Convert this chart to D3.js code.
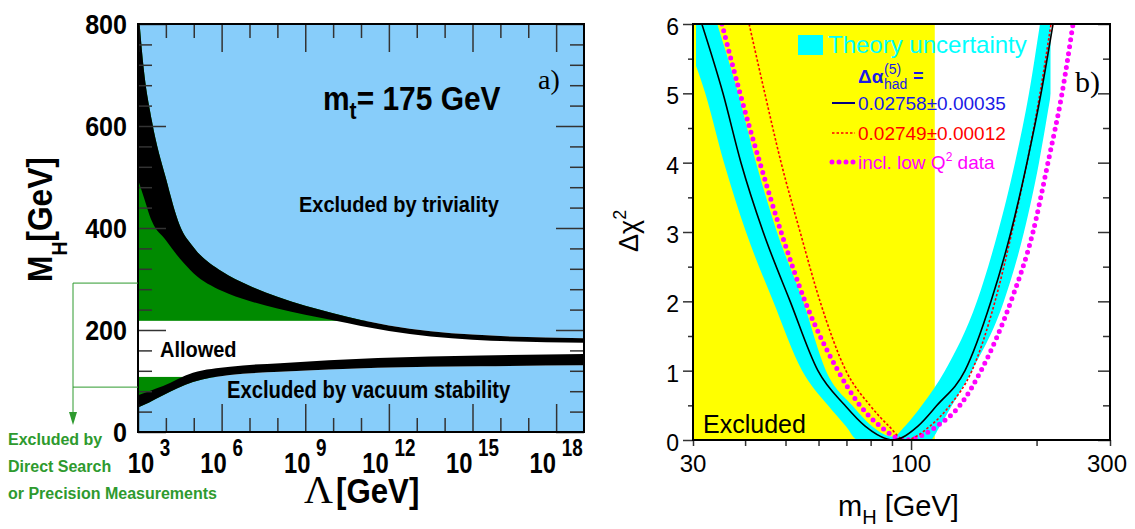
<!DOCTYPE html>
<html lang="en">
<head>
<meta charset="UTF-8">
<title>Higgs mass bounds</title>
<script src="https://d3js.org/d3.v7.min.js"></script>
<style>
  body { margin: 0; background: #fff; }
  svg { display: block; }
  .bold { font-family: 'Liberation Sans', Arial, Helvetica, sans-serif; font-weight: bold; }
  .plain { font-family: 'Liberation Sans', Arial, Helvetica, sans-serif; }
  .serif { font-family: 'Liberation Serif', 'Times New Roman', serif; }
</style>
</head>
<body>
<svg width="1135" height="529"></svg>
<script>
// ---- panel a): bounds on M_H versus log10(Lambda / GeV) ----
const lambdaLog        = [3.0, 3.2, 3.5, 4.0, 4.5, 5.0, 6.0, 7.0, 8.0, 10.0, 12.0, 15.0, 19.0];
const trivialityUpper  = [840, 715, 610, 498, 405, 362, 315, 287, 265, 233, 209, 191, 184];
const trivialityLower  = [495, 462, 413, 376, 340, 311, 277, 257, 242, 219, 198, 181, 175];
const vacuumLog        = [3.0, 3.4, 3.9, 4.97, 6.3, 8.1, 11.6, 15.3, 19.0];
const vacuumUpper      = [72, 80, 90, 116, 128, 135, 145, 150, 153];
const vacuumLower      = [48, 58, 72, 98, 112, 118, 126, 129, 131];
const directSearchLimit = 108;   // GeV, green strip below
const precisionLimit    = 218;   // GeV, green area above
const massTicksA   = [0, 200, 400, 600, 800];
const lambdaLabels = [3, 6, 9, 12, 15, 18];

// ---- panel b): delta chi^2 versus m_H ----
const chiLevels = [6, 5, 4, 3, 2, 1, 0.5, 0.2, 0, 0.2, 0.5, 1, 2, 3, 4, 5, 6];
const fitMass   = [31.5, 35.4, 39.1, 44.2, 51.3, 59.8, 69.4, 77.6, 90.5, 103.9, 115.4, 134.7, 155.5, 173.6, 189.7, 205, 219];
const alphaMass = [40.9, 44.6, 48.8, 54.2, 60.5, 69.8, 79.7, 88.5, 96.7, 111, 124, 140, 159, 174.6, 189.7, 203.8, 216.6];
const lowQ2Mass = [35.2, 38.9, 43.4, 48.8, 55.7, 66.8, 75.4, 84.3, 96.7, 115.4, 131, 147.2, 173.6, 196.1, 213, 230.2, 244.6];
// theory band: lower (outer) edge and upper (inner) edge
const bandOuterMass = [24.3, 27.9, 32.1, 35.6, 40.2, 46.7, 54.8, 63.2, 69.8, 74.6, 92, 111, 117.3, 125.4, 140, 167, 186.6, 202.7, 216.6, 231.4, 247];
const bandOuterChi2 = [7, 6, 5, 4, 3, 2, 1, 0.5, 0.2, 0, 0, 0, 0.2, 0.5, 1, 2, 3, 4, 5, 6, 7];
const bandInnerMass = [30.5, 34.3, 38.5, 42.5, 47.7, 55.1, 62.5, 72.2, 80.6, 90.5, 96.7, 106.2, 120.6, 143.9, 161.6, 177.5, 191.8, 203.8, 216];
const bandInnerChi2 = [7, 6, 5, 4, 3, 2, 1, 0.5, 0.2, 0.05, 0.2, 0.5, 1, 2, 3, 4, 5, 6, 7];
const excludedBelow = 114;
const chiTicks  = [0, 1, 2, 3, 4, 5, 6];
const chiMinor  = [0.5, 1.5, 2.5, 3.5, 4.5, 5.5];
const massMajor = [30, 100, 300];
const massMinor = [40, 50, 60, 70, 80, 90, 200];

const svg = d3.select("svg");
const zip = (xs, ys) => xs.map((x, i) => [x, ys[i]]);

const skyBlue = "#87cdfa", green = "#008a00", tickGrey = "#333";
const squeeze = 0.88;   // narrow bold look of the left panel

// bold, horizontally squeezed text
function narrow(x, y, size, str, anchor) {
  return svg.append("text").attr("class", "bold")
    .attr("transform", `translate(${x},${y}) scale(${squeeze},1)`)
    .attr("font-size", size).attr("text-anchor", anchor || "start").text(str);
}

// ================= panel a =================
const xA = d3.scaleLinear().domain([3, 19]).range([138, 584]);
const yA = d3.scaleLinear().domain([0, 800]).range([432, 24]);

svg.append("clipPath").attr("id", "clipA").append("rect")
  .attr("x", 138).attr("y", 24).attr("width", 446).attr("height", 408);

const gA = svg.append("g").attr("clip-path", "url(#clipA)");
gA.append("rect").attr("x", 138).attr("y", 24).attr("width", 446).attr("height", 408).attr("fill", "#fff");

gA.append("rect")
  .attr("x", xA(3)).attr("width", xA(19) - xA(3))
  .attr("y", yA(800)).attr("height", yA(precisionLimit) - yA(800))
  .attr("fill", green);
gA.append("rect")
  .attr("x", xA(3)).attr("width", xA(19) - xA(3))
  .attr("y", yA(directSearchLimit)).attr("height", yA(0) - yA(directSearchLimit))
  .attr("fill", green);

const areaA = d3.area().curve(d3.curveMonotoneX)
  .x(d => xA(d[0])).y0(d => yA(d[1])).y1(d => yA(d[2]));

gA.append("path")
  .datum(vacuumLog.map((x, i) => [x, -50, vacuumLower[i]]))
  .attr("d", areaA).attr("fill", skyBlue);
gA.append("path")
  .datum(vacuumLog.map((x, i) => [x, vacuumLower[i], vacuumUpper[i]]))
  .attr("d", areaA).attr("fill", "#000");
gA.append("path")
  .datum(lambdaLog.map((x, i) => [x, trivialityUpper[i], 900]))
  .attr("d", areaA).attr("fill", skyBlue);
gA.append("path")
  .datum(lambdaLog.map((x, i) => [x, trivialityLower[i], trivialityUpper[i]]))
  .attr("d", areaA).attr("fill", "#000");

// ticks
const lamMinor = d3.range(3, 19).filter(d => d % 3 !== 0);
const lamMajor = d3.range(3, 19).filter(d => d % 3 === 0);
const mMinor = d3.range(0, 801, 40).filter(d => d % 200 !== 0);
function tickAxis(axis, values, size, tx, ty) {
  const g = svg.append("g").attr("transform", `translate(${tx},${ty})`)
    .call(axis.tickValues(values).tickSize(size).tickFormat(""));
  g.select(".domain").remove();
  g.selectAll("line").attr("stroke", tickGrey).attr("stroke-width", 1.5);
}
tickAxis(d3.axisBottom(xA), lamMinor, -14, 0, 432);
tickAxis(d3.axisBottom(xA), lamMajor, -28, 0, 432);
tickAxis(d3.axisTop(xA), lamMinor, -14, 0, 24);
tickAxis(d3.axisTop(xA), lamMajor, -28, 0, 24);
tickAxis(d3.axisLeft(yA), mMinor, -14, 138, 0);
tickAxis(d3.axisLeft(yA), massTicksA, -28, 138, 0);
tickAxis(d3.axisRight(yA), mMinor, -14, 584, 0);
tickAxis(d3.axisRight(yA), massTicksA, -28, 584, 0);

svg.append("rect").attr("x", 138).attr("y", 24).attr("width", 446).attr("height", 408)
  .attr("fill", "none").attr("stroke", "#000").attr("stroke-width", 2);

// tick labels
massTicksA.forEach(d => narrow(127, yA(d) + 10, 28.5, d, "end"));

lambdaLabels.forEach((d, i) => {
  const t = svg.append("text").attr("class", "bold")
    .attr("transform", `translate(${xA(d) + (i === 0 ? 11 : 0)},473) scale(0.82,1)`)
    .attr("text-anchor", "middle").attr("font-size", 29);
  t.append("tspan").text("10");
  t.append("tspan").attr("dx", 7).attr("dy", -17).attr("font-size", 23).text(d);
});

// titles
const ytA = svg.append("text").attr("class", "bold")
  .attr("transform", `translate(52,282) rotate(-90) scale(${squeeze},1)`).attr("font-size", 36);
ytA.append("tspan").text("M");
ytA.append("tspan").attr("dy", 15).attr("font-size", 22).text("H");
ytA.append("tspan").attr("dy", -15).text("[GeV]");

svg.append("text").attr("class", "serif").attr("x", 304).attr("y", 503).attr("font-size", 40).text("Λ");
narrow(336, 503, 35.5, "[GeV]");

// annotations
const mt = narrow(323, 110, 34, "");
mt.append("tspan").text("m");
mt.append("tspan").attr("dy", 9).attr("font-size", 24).text("t");
mt.append("tspan").attr("dy", -9).text("= 175 GeV");

svg.append("text").attr("class", "serif").attr("x", 538).attr("y", 89).attr("font-size", 28).text("a)");
narrow(299, 212, 22.7, "Excluded by triviality");
narrow(160, 357, 22.7, "Allowed");
narrow(227, 398, 23, "Excluded by vacuum stability");

// green bracket pointing to the excluded-by-search label
const annColor = "#2e9a2e";
const bx = xA(3) - 65;
svg.append("path")
  .attr("d", `M${xA(3)},${yA(292)}H${bx}V${yA(0) - 20}M${xA(3)},${yA(88)}H${bx}`)
  .attr("fill", "none").attr("stroke", annColor).attr("stroke-width", 1);
svg.append("path")
  .attr("d", `M${bx - 4},${yA(0) - 20}L${bx + 4},${yA(0) - 20}L${bx},${yA(0) - 7}Z`)
  .attr("fill", annColor);
["Excluded by", "Direct Search", "or Precision Measurements"].forEach((t, i) => {
  svg.append("text").attr("class", "bold").attr("x", 8).attr("y", 445 + i * 27)
    .attr("font-size", 16).attr("fill", annColor).text(t);
});

// ================= panel b =================
const xB = d3.scaleLog().domain([30, 300]).range([693, 1110]);
const yB = d3.scaleLinear().domain([0, 6]).range([440, 24]);

svg.append("clipPath").attr("id", "clipB").append("rect")
  .attr("x", 693).attr("y", 24).attr("width", 417).attr("height", 416);
const gB = svg.append("g").attr("clip-path", "url(#clipB)");

gB.append("rect").attr("x", xB(30)).attr("y", yB(6))
  .attr("width", xB(excludedBelow) - xB(30)).attr("height", yB(0) - yB(6))
  .attr("fill", "#ffff00");

// theory band: above the outer edge and below the inner edge
const areaB = d3.area().curve(d3.curveMonotoneX)
  .x(d => xB(d[0])).y0(d => yB(d[1])).y1(d => yB(d[2]));
svg.append("clipPath").attr("id", "underInner").append("path")
  .datum(bandInnerMass.map((m, i) => [m, -1, bandInnerChi2[i]]))
  .attr("d", areaB);
gB.append("g").attr("clip-path", "url(#underInner)").append("path")
  .datum(bandOuterMass.map((m, i) => [m, bandOuterChi2[i], 8]))
  .attr("d", areaB).attr("fill", "#00ffff");

const lineB = d3.line().curve(d3.curveMonotoneX).x(d => xB(d[0])).y(d => yB(d[1]));

gB.append("path").datum(zip(lowQ2Mass, chiLevels)).attr("d", lineB)
  .attr("fill", "none").attr("stroke", "#ff00ff").attr("stroke-width", 5)
  .attr("stroke-linecap", "round").attr("stroke-dasharray", "0,7");
gB.append("path").datum(zip(alphaMass, chiLevels)).attr("d", lineB)
  .attr("fill", "none").attr("stroke", "#ff0000").attr("stroke-width", 1.6)
  .attr("stroke-dasharray", "2.5,2");
gB.append("path").datum(zip(fitMass, chiLevels)).attr("d", lineB)
  .attr("fill", "none").attr("stroke", "#000").attr("stroke-width", 1.6);

tickAxis(d3.axisLeft(yB), chiTicks, 10, 693, 0);
tickAxis(d3.axisLeft(yB), chiMinor, 5, 693, 0);
tickAxis(d3.axisRight(yB), chiTicks, -12, 1110, 0);
tickAxis(d3.axisRight(yB), chiMinor, -7, 1110, 0);
tickAxis(d3.axisBottom(xB), [100], 10, 0, 440);
tickAxis(d3.axisBottom(xB), massMinor.concat([30, 300]), 6, 0, 440);

svg.append("rect").attr("x", 693).attr("y", 24).attr("width", 417).attr("height", 416)
  .attr("fill", "none").attr("stroke", "#000").attr("stroke-width", 2);

svg.selectAll(".ylabB").data(chiTicks).enter().append("text")
  .attr("class", "plain").attr("x", 679).attr("y", d => yB(d) + 11)
  .attr("text-anchor", "end").attr("font-size", 23).text(d => d);
svg.selectAll(".xlabB").data(massMajor).enter().append("text")
  .attr("class", "plain").attr("x", d => xB(d) + (d === 300 ? -3 : 0)).attr("y", 472)
  .attr("text-anchor", "middle").attr("font-size", 24).text(d => d);

const xtB = svg.append("text").attr("class", "plain").attr("x", 838).attr("y", 516).attr("font-size", 29);
xtB.append("tspan").text("m");
xtB.append("tspan").attr("dy", 8).attr("font-size", 20).text("H");
xtB.append("tspan").attr("dy", -8).text(" [GeV]");

const ytB = svg.append("text").attr("class", "plain")
  .attr("transform", "translate(638,252) rotate(-90)").attr("font-size", 27);
ytB.append("tspan").text("Δχ");
ytB.append("tspan").attr("dy", -12).attr("font-size", 18).text("2");

svg.append("text").attr("class", "plain").attr("x", 703).attr("y", 433).attr("font-size", 25).text("Excluded");
svg.append("text").attr("class", "serif").attr("x", 1075).attr("y", 92).attr("font-size", 30).text("b)");

// legend
svg.append("rect").attr("x", 798).attr("y", 35).attr("width", 25).attr("height", 20).attr("fill", "#00ffff");
svg.append("text").attr("class", "plain").attr("x", 828).attr("y", 53).attr("font-size", 24)
  .attr("fill", "#00ffff").text("Theory uncertainty");

const blue = "#1a1ae6";
const da = svg.append("text").attr("class", "plain").attr("fill", blue);
da.append("tspan").attr("x", 858).attr("y", 83).attr("font-size", 19).attr("font-weight", "bold").text("Δα");
da.append("tspan").attr("x", 884).attr("y", 74).attr("font-size", 14).text("(5)");
da.append("tspan").attr("x", 884).attr("y", 89).attr("font-size", 14).text("had");
da.append("tspan").attr("x", 913).attr("y", 82).attr("font-size", 18).attr("font-weight", "bold").text("=");

const legendRows = [
  { label: "0.02758±0.00035", color: blue, stroke: "#000080", width: 2, dash: null, y: 103 },
  { label: "0.02749±0.00012", color: "#ff0000", stroke: "#ff0000", width: 1.6, dash: "2.5,2", y: 133 },
  { label: "incl. low Q", color: "#ff00ff", stroke: "#ff00ff", width: 5, dash: "0,7", y: 162 }
];
legendRows.forEach(r => {
  svg.append("line").attr("x1", 832).attr("x2", 855).attr("y1", r.y).attr("y2", r.y)
    .attr("stroke", r.stroke).attr("stroke-width", r.width)
    .attr("stroke-dasharray", r.dash).attr("stroke-linecap", r.dash === "0,7" ? "round" : "butt");
  const t = svg.append("text").attr("class", "plain").attr("x", 858).attr("y", r.y + 7)
    .attr("font-size", 19).attr("fill", r.color).text(r.label);
  if (r.label === "incl. low Q") {
    t.append("tspan").attr("dy", -8).attr("font-size", 12).text("2");
    t.append("tspan").attr("dy", 8).text(" data");
  }
});
</script>
</body>
</html>
